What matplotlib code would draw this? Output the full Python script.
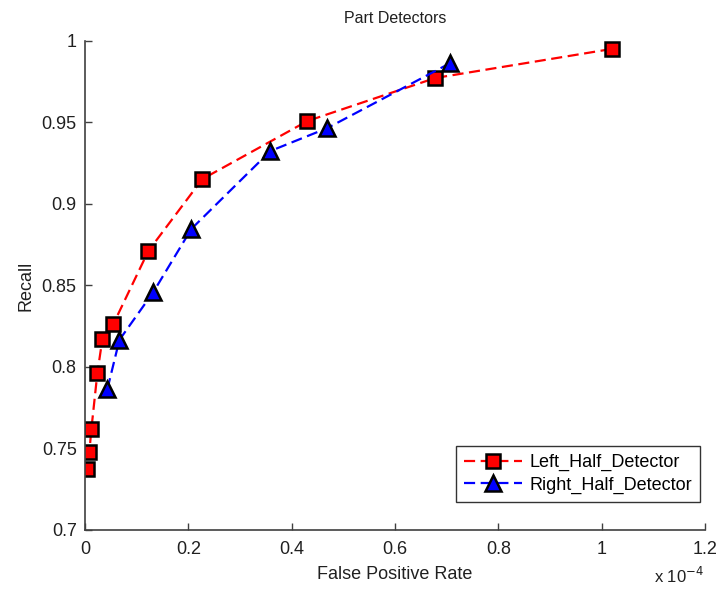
import matplotlib
matplotlib.use("Agg")
import matplotlib.pyplot as plt

# false positive rate in units of 1e-4
left_fpr = [1.019, 0.678, 0.4305, 0.2272, 0.1227, 0.0550, 0.0337, 0.0240, 0.0124, 0.0085, 0.0046]
left_recall = [0.9951, 0.9773, 0.9509, 0.9153, 0.8712, 0.8264, 0.8172, 0.7963, 0.7620, 0.7479, 0.7374]
right_fpr = [0.7072, 0.4692, 0.3588, 0.2059, 0.1324, 0.0666, 0.0434]
right_recall = [0.9865, 0.9466, 0.9325, 0.8847, 0.8460, 0.8166, 0.7865]

xticks = [0, 0.2, 0.4, 0.6, 0.8, 1, 1.2]
yticks = [0.7, 0.75, 0.8, 0.85, 0.9, 0.95, 1]

plt.rcParams['font.family'] = ['Liberation Sans', 'DejaVu Sans']

fig = plt.figure(figsize=(7.22, 5.89), dpi=100)
ax = fig.add_axes([0.1177, 0.1002, 0.8588, 0.8302])

ax.plot(left_fpr, left_recall, color='red', lw=1.6, dashes=(5, 2.5),
        marker='s', markersize=10, markerfacecolor='red', markeredgecolor='black',
        markeredgewidth=1.8, label='Left_Half_Detector')
ax.plot(right_fpr, right_recall, color='blue', lw=1.6, dashes=(5, 2.5),
        marker='^', markersize=12, markerfacecolor='blue', markeredgecolor='black',
        markeredgewidth=1.8, label='Right_Half_Detector')

ax.set_xlim(0, 1.2)
ax.set_ylim(0.7, 1.0)
ax.set_xticks(xticks)
ax.set_xticklabels(['0', '0.2', '0.4', '0.6', '0.8', '1', '1.2'])
ax.set_yticks(yticks)
ax.set_yticklabels(['0.7', '0.75', '0.8', '0.85', '0.9', '0.95', '1'])

for side in ['top', 'right']:
    ax.spines[side].set_visible(False)
for side in ['left', 'bottom']:
    ax.spines[side].set_color('#404040')
    ax.spines[side].set_linewidth(1.2)
ax.tick_params(direction='in', length=5, width=1, color='#404040',
               labelsize=13, labelcolor='#202020')
ax.tick_params(axis='x', pad=8)
ax.tick_params(axis='y', pad=6)

ax.set_xlabel('False Positive Rate', fontsize=13, color='#202020', labelpad=6)
ax.set_ylabel('Recall', fontsize=13, color='#202020', labelpad=5)
ax.set_title('Part Detectors', fontsize=11.5, color='#202020', pad=13)
fig.text(0.975, 0.01, r'x 10$^{-4}$', fontsize=12, color='#202020', ha='right')

leg = ax.legend(loc='lower right', fontsize=13, frameon=True, fancybox=False,
                handlelength=3.2, borderaxespad=0, borderpad=0.45, labelspacing=0.3,
                handletextpad=0.4, bbox_to_anchor=(700 / 722, 1 - 502 / 589),
                bbox_transform=fig.transFigure)
leg.get_frame().set_edgecolor('black')
leg.get_frame().set_linewidth(1)

fig.savefig('out.png', dpi=100)
